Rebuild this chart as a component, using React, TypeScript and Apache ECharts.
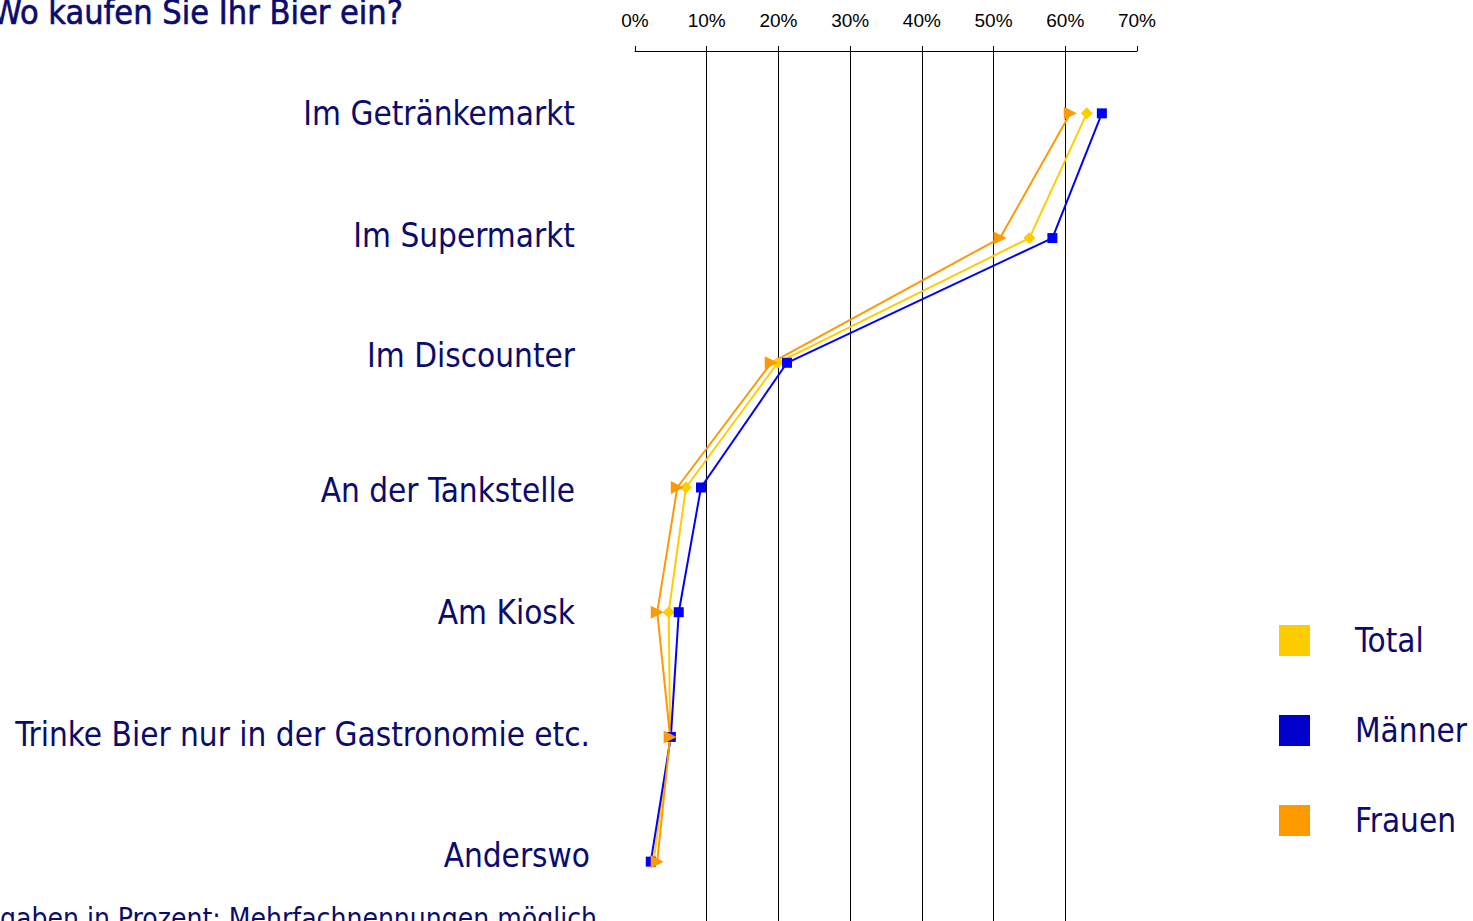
import React, { useEffect, useRef } from "react";
import * as echarts from "echarts";

const categories = [
  "Im Getränkemarkt",
  "Im Supermarkt",
  "Im Discounter",
  "An der Tankstelle",
  "Am Kiosk",
  "Trinke Bier nur in der Gastronomie etc.",
  "Anderswo",
];
const totalValues = [63.0, 55.0, 19.9, 7.1, 4.7, 4.9, 2.6];
const maennerValues = [65.1, 58.2, 21.2, 9.2, 6.1, 5.0, 2.2];
const frauenValues = [60.7, 50.9, 19.0, 5.9, 3.1, 4.9, 3.1];
const seriesNames = ["Total", "Männer", "Frauen"];
const xTicks = [0, 10, 20, 30, 40, 50, 60, 70];

const titleText = "Wo kaufen Sie Ihr Bier ein?";
const footerText = "Angaben in Prozent: Mehrfachnennungen möglich";

const NAVY = "#0b0b6e";
const FONT = "'Liberation Sans Narrow', 'DejaVu Sans Condensed', 'Arial Narrow', sans-serif";

export default function App() {
  const ref = useRef<HTMLDivElement>(null);
  useEffect(() => {
    if (!ref.current) return;
    const chart = echarts.init(ref.current, undefined, { renderer: "svg" });
    const lineSeries = (name: string, data: number[], color: string, symbol: string, size: number, rotate = 0) => ({
      name,
      type: "line",
      data,
      symbol,
      symbolSize: size,
      symbolRotate: rotate,
      lineStyle: { color, width: 2 },
      itemStyle: { color },
      z: 3,
    });
    const LS = 33;
    chart.setOption({
      animation: false,
      backgroundColor: "#ffffff",
      grid: { left: 635, width: 502, top: 51, height: 873, containLabel: false, outerBoundsMode: "none" },
      xAxis: {
        type: "value",
        position: "top",
        min: xTicks[0],
        max: xTicks[xTicks.length - 1],
        interval: 10,
        axisLine: { show: true, lineStyle: { color: "#000", width: 1 } },
        axisTick: { show: true, length: 5, lineStyle: { color: "#000", width: 1 } },
        axisLabel: {
          formatter: "{value}%",
          color: "#000",
          fontSize: 19,
          fontFamily: "'Liberation Sans', Arial, sans-serif",
          margin: 21,
        },
        splitLine: {
          show: true,
          showMinLine: false,
          showMaxLine: false,
          lineStyle: { color: "#000", width: 1 },
        },
      },
      yAxis: {
        type: "category",
        inverse: true,
        data: categories,
        axisLine: { show: false },
        axisTick: { show: false },
        splitLine: { show: false },
        axisLabel: {
          margin: 45,
          color: NAVY,
          fontSize: LS,
          fontFamily: FONT,
          formatter: (v: string, i: number) => {
            const keys = ["a", "s", "c", "b", "a", "w", "x"];
            return `{${keys[i]}|${v}}`;
          },
          rich: {
            a: { fontSize: LS, fontFamily: FONT, color: NAVY, padding: [0, 15, 0, 0] },
            s: { fontSize: LS, fontFamily: FONT, color: NAVY, padding: [0, 15, 6, 0] },
            b: { fontSize: LS, fontFamily: FONT, color: NAVY, padding: [6, 15, 0, 0] },
            c: { fontSize: LS, fontFamily: FONT, color: NAVY, padding: [0, 15, 14, 0] },
            w: { fontSize: LS, fontFamily: FONT, color: NAVY, padding: [0, 0, 5, 0] },
            x: { fontSize: LS, fontFamily: FONT, color: NAVY, padding: [0, 0, 12, 0] },
          },
        },
      },
      legend: {
        orient: "vertical",
        left: 1279,
        top: 624,
        padding: 0,
        itemWidth: 31,
        itemHeight: 31,
        itemGap: 57,
        icon: "rect",
        data: [
          { name: seriesNames[0], itemStyle: { color: "#FFCC00" } },
          { name: seriesNames[1], itemStyle: { color: "#0000CC" } },
          { name: seriesNames[2], itemStyle: { color: "#FF9900" } },
        ],
        textStyle: {
          color: NAVY,
          fontSize: 33,
          fontFamily: FONT,
          padding: [0, 0, 0, 40],
        },
        selectedMode: false,
      },
      series: [
        lineSeries(seriesNames[0], totalValues, "#FFCC00", "diamond", 12),
        lineSeries(seriesNames[1], maennerValues, "#0000FF", "rect", 10),
        lineSeries(seriesNames[2], frauenValues, "#FF9900", "triangle", 13, -90),
      ],
      graphic: [
        {
          type: "text",
          x: 403,
          y: 12,
          style: {
            text: titleText,
            fill: NAVY,
            fontSize: 34,
            fontFamily: FONT,
            align: "right",
            verticalAlign: "middle",
            stroke: NAVY,
            lineWidth: 0.6,
          },
        },
        {
          type: "text",
          x: 597,
          y: 904,
          style: {
            text: footerText,
            fill: NAVY,
            fontSize: 28,
            fontFamily: FONT,
            align: "right",
            verticalAlign: "top",
          },
        },
      ],
    });
    return () => chart.dispose();
  }, []);
  return (
    <div
      ref={ref}
      style={{ position: "fixed", left: 0, top: 0, width: 1473, height: 921, background: "#fff" }}
    />
  );
}
